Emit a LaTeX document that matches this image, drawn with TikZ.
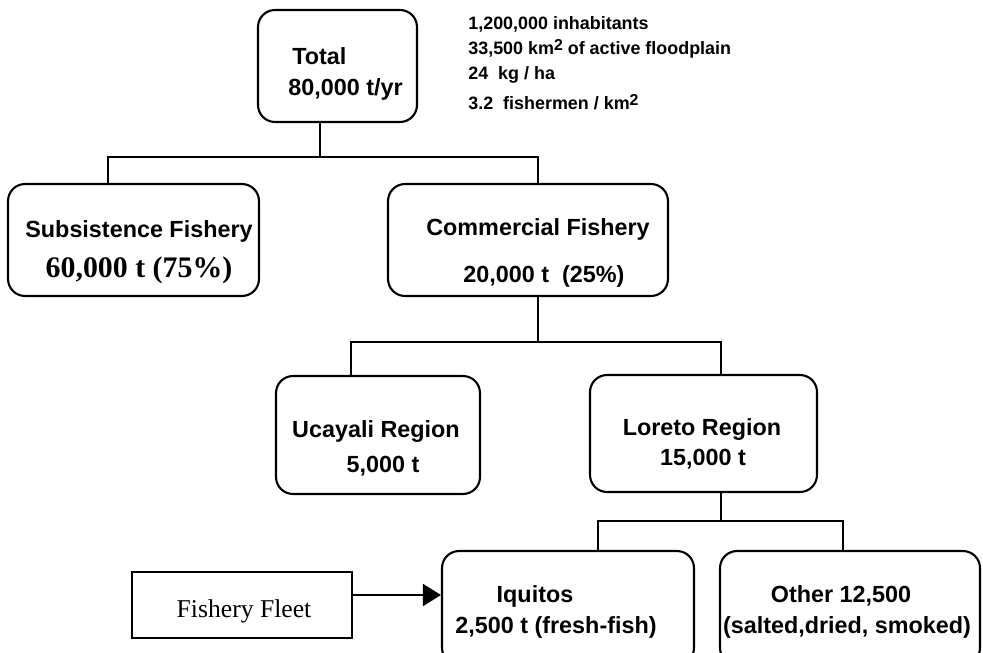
\documentclass[tikz,border=0pt]{standalone}
\usepackage{fontspec}
\setmainfont{Liberation Serif}
\setsansfont{Liberation Sans}
\usetikzlibrary{arrows.meta}

\newcommand{\sqsup}{\raisebox{0.45ex}{\fontsize{9}{10}\selectfont 2}}

\begin{document}
\begin{tikzpicture}[x=0.02cm,y=-0.02cm,
    rbox/.style={draw,line width=1.2pt,rounded corners=0.34cm,inner sep=0pt},
    lbl/.style={anchor=base,inner sep=0pt,font=\sffamily\bfseries\fontsize{13.3}{16}\selectfont},
    num/.style={anchor=base,inner sep=0pt,font=\rmfamily\bfseries\fontsize{17}{20}\selectfont},
    info/.style={anchor=base west,inner sep=0pt,font=\sffamily\bfseries\fontsize{10.2}{12}\selectfont},
    link/.style={line width=0.8pt}]

  \useasboundingbox (0,0) rectangle (983,652);
  \clip (0,0) rectangle (983,652);

  % boxes
  \node[rbox,minimum width=3.18cm,minimum height=2.24cm] (tot) at (337.5,66) {};
  \node[rbox,minimum width=5.02cm,minimum height=2.24cm] (sub) at (133.5,240) {};
  \node[rbox,minimum width=5.6cm,minimum height=2.24cm] (com) at (528,240) {};
  \node[rbox,minimum width=4.08cm,minimum height=2.36cm] (uca) at (378,435) {};
  \node[rbox,minimum width=4.54cm,minimum height=2.34cm] (lor) at (703.5,433.5) {};
  \node[rbox,minimum width=5.04cm,minimum height=2.28cm] (iqu) at (568,608) {};
  \node[rbox,minimum width=5.2cm,minimum height=2.28cm] (oth) at (850,608) {};
  \node[draw,line width=1.2pt,minimum width=4.4cm,minimum height=1.32cm] (flt) at (242,605) {};

  % texts
  \node[lbl,anchor=base west] (totA) at (292,65) {Total};
  \node[lbl,anchor=base west] (totB) at (288,95) {80,000 t/yr};

  \foreach \yy/\txt [count=\i] in {30/{1,200,000 inhabitants},
      55/{33,500 km\sqsup{} of active floodplain},
      80/{24~~kg / ha},
      110/{3.2~~fishermen / km\sqsup}}
    \node[info] (info\i) at (468,\yy) {\txt};

  \node[lbl] (subA) at (139,237) {Subsistence Fishery};
  \node[num] (subB) at (139,277) {60,000 t (75\%)};
  \node[lbl] (comA) at (538,235) {Commercial Fishery};
  \node[lbl] (comB) at (544,282) {20,000 t~~(25\%)};
  \node[lbl] (ucaA) at (376,437) {Ucayali Region};
  \node[lbl] (ucaB) at (383,472) {5,000 t};
  \node[lbl] (lorA) at (702,435) {Loreto Region};
  \node[lbl] (lorB) at (703,465) {15,000 t};
  \node[lbl] (iquA) at (535,602) {Iquitos};
  \node[lbl] (iquB) at (556,633) {2,500 t (fresh-fish)};
  \node[lbl] (othA) at (841,602) {Other 12,500};
  \node[lbl] (othB) at (847,633) {(salted,dried, smoked)};
  \node[anchor=base,inner sep=0pt,font=\rmfamily\fontsize{14.6}{17}\selectfont] (fltA) at (244,617) {Fishery Fleet};

  % tree lines
  \coordinate (j1) at (320,157);
  \coordinate (s1) at (108,157);
  \coordinate (c1) at (538,157);
  \draw[link] (j1 |- tot.south) -- (j1);
  \draw[link] (s1 |- sub.north) -- (s1) -- (c1) -- (c1 |- com.north);

  \coordinate (j2) at (538,342);
  \coordinate (u2) at (351,342);
  \coordinate (l2) at (721,342);
  \draw[link] (j2 |- com.south) -- (j2);
  \draw[link] (u2 |- uca.north) -- (u2) -- (l2) -- (l2 |- lor.north);

  \coordinate (j3) at (721,521);
  \coordinate (i3) at (598,521);
  \coordinate (o3) at (843,521);
  \draw[link] (j3 |- lor.south) -- (j3);
  \draw[link] (i3 |- iqu.north) -- (i3) -- (o3) -- (o3 |- oth.north);

  % fleet
  \draw[link,-{Triangle[length=0.36cm,width=0.44cm]}] ([yshift=0.2cm]flt.east) -- ([yshift=0.2cm]flt.east -| iqu.west);
\end{tikzpicture}
\end{document}
